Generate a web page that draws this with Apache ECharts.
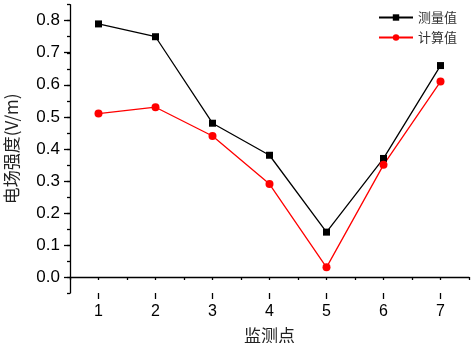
<!DOCTYPE html>
<html><head><meta charset="utf-8">
<script src="https://cdn.jsdelivr.net/npm/echarts@6/dist/echarts.min.js"></script>
<style>html,body{margin:0;padding:0;background:#fff}#c{width:472px;height:343px}</style>
</head><body><div id="c"></div>
<script>
var categories = [1, 2, 3, 4, 5, 6, 7];
var measured = [0.79, 0.75, 0.48, 0.38, 0.14, 0.37, 0.66];
var calculated = [0.51, 0.53, 0.44, 0.29, 0.03, 0.35, 0.61];
var seriesNames = ['测量值', '计算值'];
var xTickCats = [];
for (var i = 1; i <= 15; i++) xTickCats.push((i * 0.5).toString());
var yTickCats = [];
for (var j = -1; j <= 17; j++) yTickCats.push((j * 0.05).toFixed(2));

var chart = echarts.init(document.getElementById('c'));
var font = 'Liberation Sans, Arial, sans-serif';
var cjk = 'Noto Sans CJK SC, sans-serif';
var isInt = function (idx) { return idx % 2 === 1; };
var isTenth = function (idx) { return idx % 2 === 1; };
chart.setOption({
  animation: false,
  grid: { left: 70, right: 3, top: 4.7, bottom: 50, containLabel: false, outerBoundsMode: 'none' },
  legend: {
    orient: 'vertical', left: 373, top: 6, itemWidth: 34, itemHeight: 8, itemGap: 7,
    textStyle: { fontFamily: cjk, fontSize: 13, color: '#333' },
    data: seriesNames
  },
  xAxis: [{
    type: 'value', min: 0.5, max: 7.5, interval: 0.5,
    axisLine: { lineStyle: { color: '#000', width: 1.3 } },
    axisTick: { inside: false, length: 3, lineStyle: { color: '#000', width: 1.3 } },
    axisLabel: { show: false }, splitLine: { show: false }
  }, {
    type: 'category', data: xTickCats, boundaryGap: false, position: 'bottom',
    axisLine: { show: false },
    axisTick: { length: 6, interval: function (idx) { return isInt(idx); }, lineStyle: { color: '#000', width: 1.3 } },
    axisLabel: { interval: function (idx) { return isInt(idx); }, margin: 11, fontFamily: font, fontSize: 16, color: '#000',
      formatter: function (v) { return String(parseInt(v, 10)); } },
    name: '监测点', nameLocation: 'middle', nameGap: 34,
    nameTextStyle: { fontFamily: cjk, fontSize: 17, color: '#222' }
  }],
  yAxis: [{
    type: 'value', min: -0.05, max: 0.85, interval: 0.05,
    axisLine: { show: true, lineStyle: { color: '#000', width: 1.3 } },
    axisTick: { show: true, length: 3, lineStyle: { color: '#000', width: 1.3 } },
    axisLabel: { show: false }, splitLine: { show: false }
  }, {
    type: 'category', data: yTickCats, boundaryGap: false, position: 'left',
    axisLine: { show: false },
    axisTick: { length: 6, interval: function (idx) { return isTenth(idx); }, lineStyle: { color: '#000', width: 1.3 } },
    axisLabel: { interval: function (idx) { return isTenth(idx); }, margin: 10, fontFamily: font, fontSize: 17, color: '#000',
      formatter: function (v) { return parseFloat(v).toFixed(1); } },
    name: '电场强度(V/m)', nameLocation: 'middle', nameGap: 50, nameRotate: 90,
    nameTextStyle: { fontFamily: cjk, fontSize: 17, color: '#222' }
  }],
  series: [{
    name: seriesNames[0], type: 'line', xAxisIndex: 0, yAxisIndex: 0,
    data: categories.map(function (c, k) { return [c, measured[k]]; }),
    symbol: 'rect', symbolSize: 7, itemStyle: { color: '#000' },
    lineStyle: { color: '#000', width: 1.3 }
  }, {
    name: seriesNames[1], type: 'line', xAxisIndex: 0, yAxisIndex: 0,
    data: categories.map(function (c, k) { return [c, calculated[k]]; }),
    symbol: 'circle', symbolSize: 8, itemStyle: { color: '#ff0000' },
    lineStyle: { color: '#ff0000', width: 1.3 }
  }]
});
</script></body></html>
